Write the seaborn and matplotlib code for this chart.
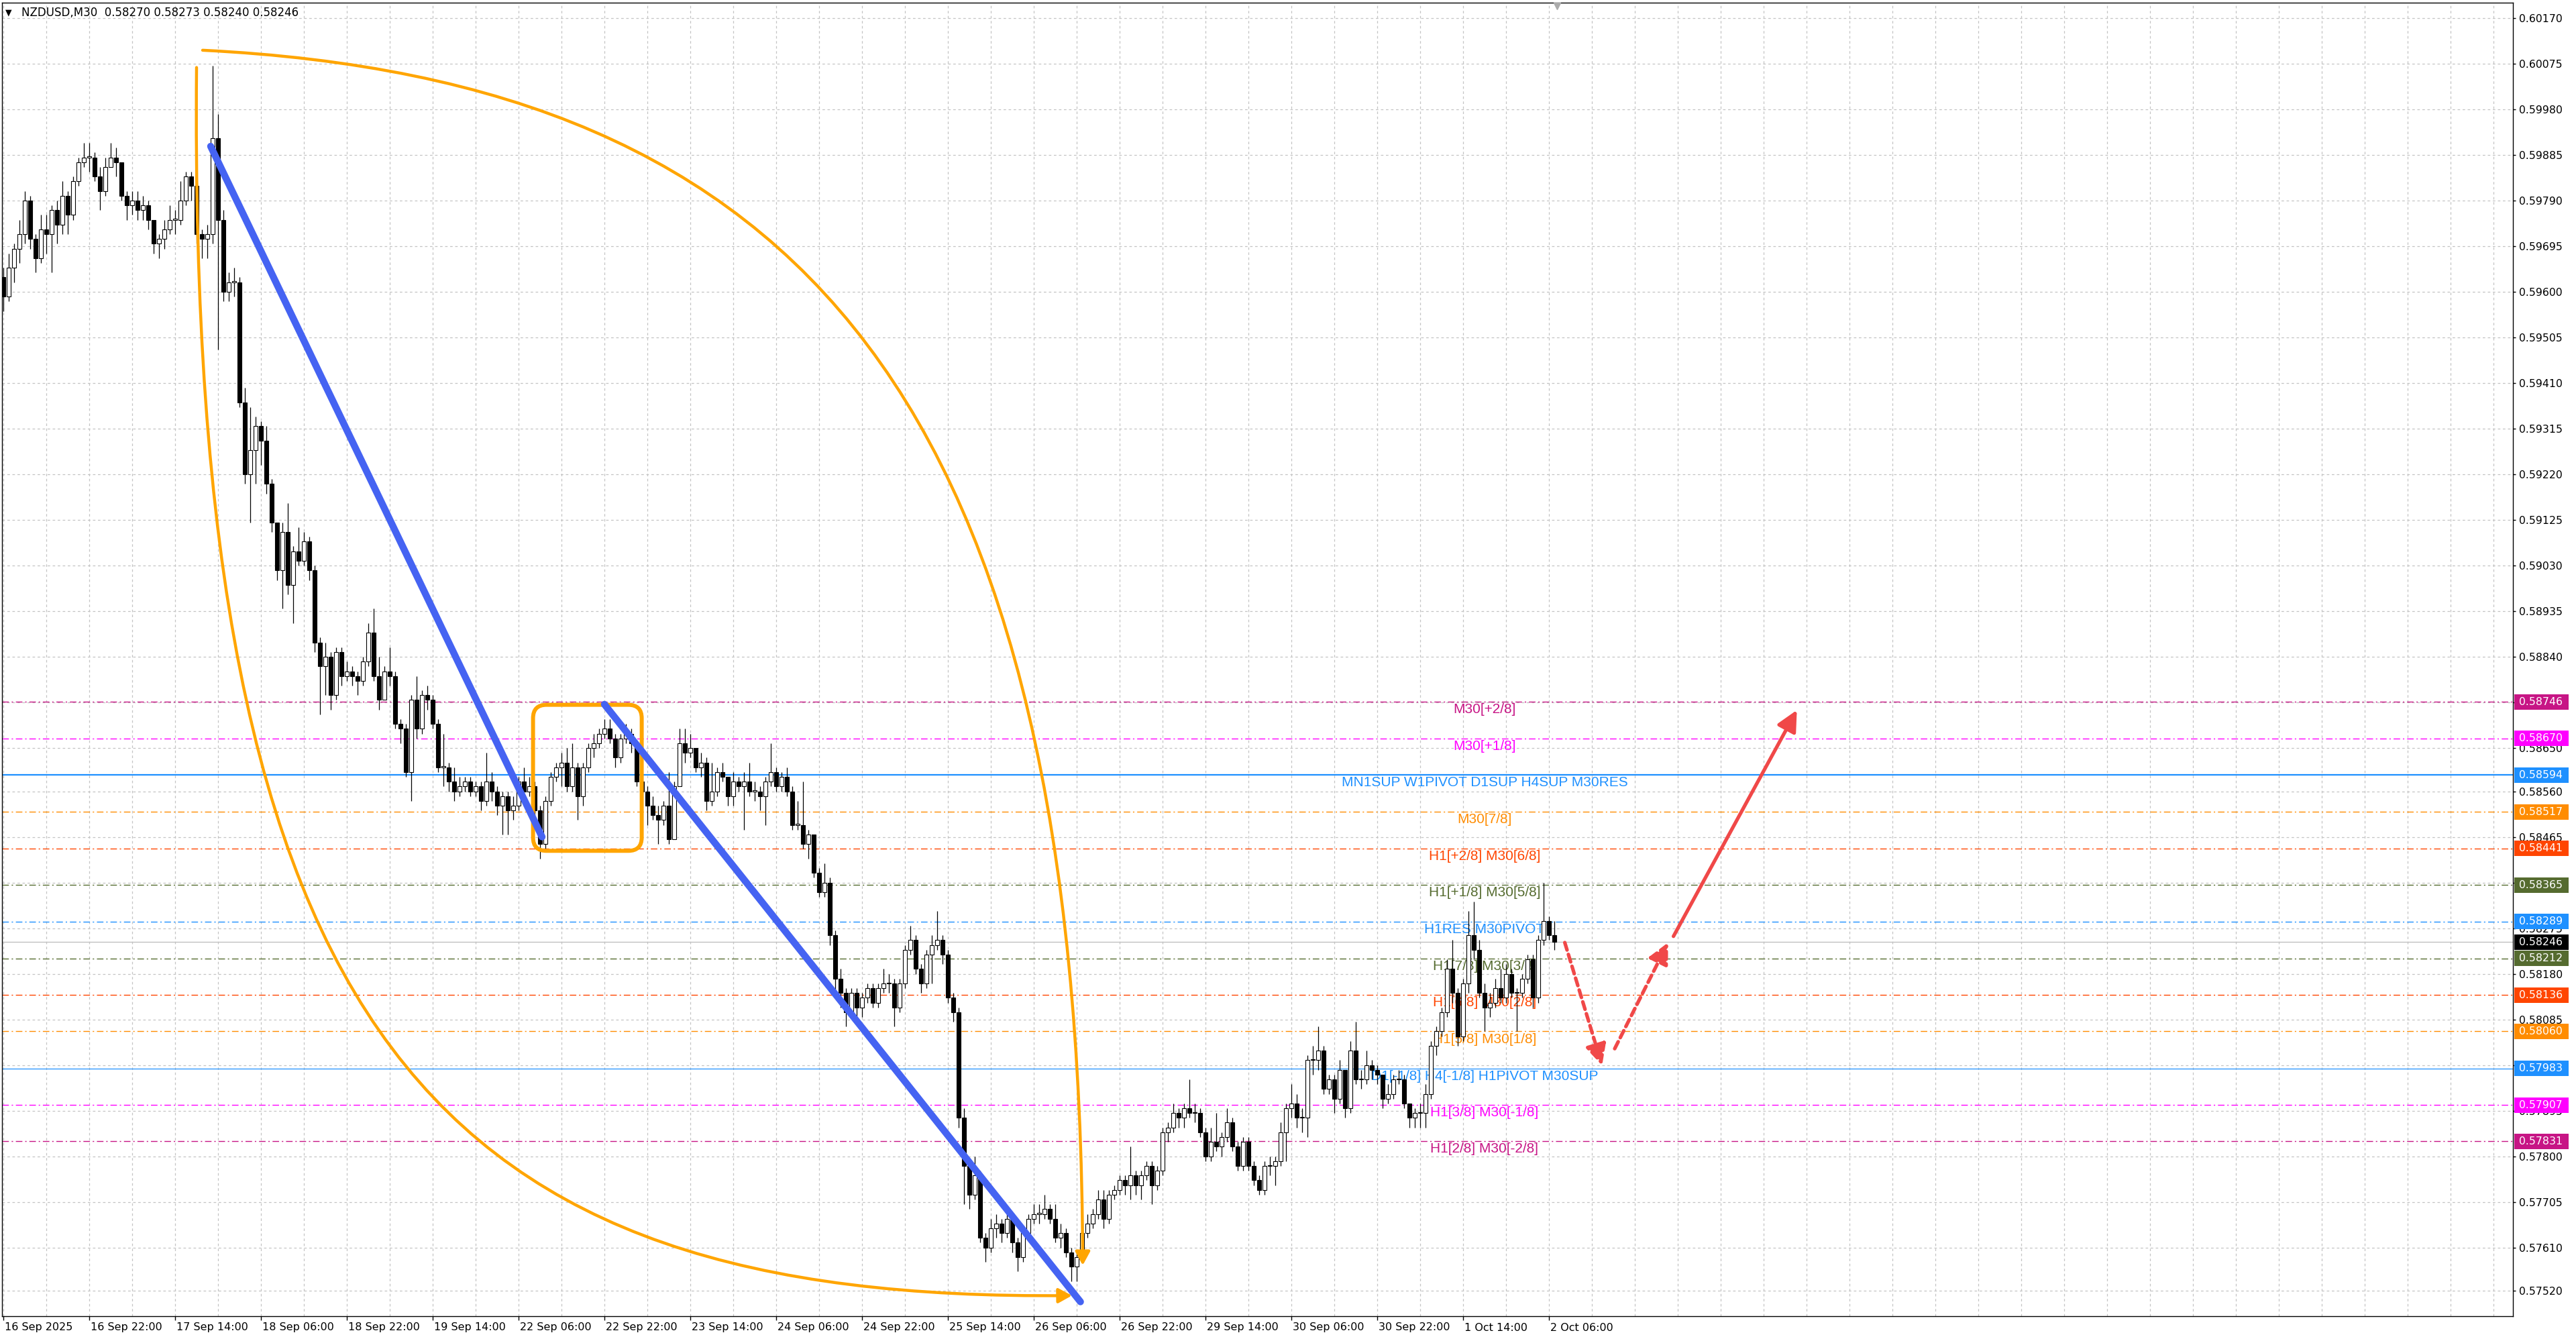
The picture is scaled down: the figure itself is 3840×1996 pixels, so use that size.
import numpy as np
import pandas as pd
import matplotlib
matplotlib.use("Agg")
import matplotlib.pyplot as plt
import seaborn as sns
from matplotlib.patches import FancyBboxPatch, FancyArrowPatch, Rectangle
from matplotlib.path import Path
from matplotlib.transforms import blended_transform_factory, IdentityTransform

# ---------------- data ----------------
SYMBOL_TITLE = "NZDUSD,M30  0.58270 0.58273 0.58240 0.58246"

FIRST_OPEN = 0.5963
CLOSE = [
    0.5959, 0.5965, 0.5969, 0.5972, 0.5979, 0.5971, 0.5967, 0.5973, 0.5972, 0.5977,
    0.5974, 0.5980, 0.5976, 0.5983, 0.5987, 0.5988, 0.5988, 0.5984, 0.5981, 0.5986,
    0.5988, 0.5987, 0.5980, 0.5978, 0.5979, 0.5977, 0.5978, 0.5975, 0.5970, 0.5971,
    0.5973, 0.5975, 0.5975, 0.5979, 0.5984, 0.5982, 0.5972, 0.5971, 0.5972, 0.5992,
    0.5975, 0.5960, 0.5962, 0.5962, 0.5937, 0.5922, 0.5927, 0.5932, 0.5929, 0.5920,
    0.5912, 0.5902, 0.5910, 0.5899, 0.5906, 0.5904, 0.5908, 0.5902, 0.5887, 0.5882,
    0.5884, 0.5876, 0.5885, 0.5880, 0.5881, 0.5880, 0.5879, 0.5883, 0.5889, 0.5880,
    0.5875, 0.5881, 0.5880, 0.5870, 0.5869, 0.5860, 0.5875, 0.5869, 0.5876, 0.5875,
    0.5870, 0.5861, 0.5861, 0.5858, 0.5856, 0.5857, 0.5858, 0.5856, 0.5857, 0.5854,
    0.5858, 0.5856, 0.5853, 0.5855, 0.5852, 0.5853, 0.5858, 0.5856, 0.5857, 0.5852,
    0.5845, 0.5854, 0.5859, 0.5861, 0.5862, 0.5857, 0.5861, 0.5855, 0.5861, 0.5865,
    0.5866, 0.5868, 0.5869, 0.5867, 0.5863, 0.5867, 0.5868, 0.5866, 0.5858, 0.5856,
    0.5853, 0.5851, 0.5850, 0.5853, 0.5846, 0.5857, 0.5866, 0.5864, 0.5865, 0.5861,
    0.5862, 0.5854, 0.5856, 0.5860, 0.5859, 0.5855, 0.5858, 0.5857, 0.5858, 0.5856,
    0.5856, 0.5855, 0.5858, 0.5860, 0.5857, 0.5859, 0.5856, 0.5849, 0.5849, 0.5845,
    0.5847, 0.5839, 0.5835, 0.5837, 0.5826, 0.5817, 0.5814, 0.5810, 0.5814, 0.5811,
    0.5813, 0.5815, 0.5812, 0.5815, 0.5816, 0.5816, 0.5811, 0.5816, 0.5823, 0.5825,
    0.5819, 0.5816, 0.5822, 0.5824, 0.5825, 0.5822, 0.5813, 0.5810, 0.5788, 0.5778,
    0.5772, 0.5776, 0.5763, 0.5761, 0.5765, 0.5766, 0.5764, 0.5767, 0.5762, 0.5759,
    0.5764, 0.5767, 0.5768, 0.5768, 0.5769, 0.5767, 0.5763, 0.5764, 0.5760, 0.5757,
    0.5759, 0.5764, 0.5766, 0.5768, 0.5771, 0.5767, 0.5772, 0.5773, 0.5775, 0.5774,
    0.5776, 0.5774, 0.5776, 0.5778, 0.5774, 0.5777, 0.5785, 0.5786, 0.5789, 0.5788,
    0.5790, 0.5789, 0.5789, 0.5785, 0.5780, 0.5783, 0.5782, 0.5784, 0.5787, 0.5782,
    0.5778, 0.5783, 0.5778, 0.5775, 0.5773, 0.5778, 0.5778, 0.5779, 0.5785, 0.5790,
    0.5791, 0.5788, 0.5788, 0.5800, 0.5800, 0.5802, 0.5794, 0.5796, 0.5792, 0.5798,
    0.5790, 0.5802, 0.5796, 0.5796, 0.5799, 0.5798, 0.5797, 0.5792, 0.5793, 0.5796,
    0.5796, 0.5791, 0.5788, 0.5789, 0.5789, 0.5793, 0.5803, 0.5806, 0.5810, 0.5819,
    0.5814, 0.5805, 0.5816, 0.5826, 0.5823, 0.5814, 0.5811, 0.5812, 0.5815, 0.5813,
    0.5818, 0.5814, 0.5814, 0.5817, 0.5821, 0.5813, 0.5825, 0.5829, 0.5826, 0.58246,
]
HIGH = [
    0.5965, 0.5968, 0.5970, 0.5975, 0.5981, 0.5980, 0.5972, 0.5976, 0.5976, 0.5978,
    0.5979, 0.5983, 0.5981, 0.5984, 0.5988, 0.5991, 0.5991, 0.5989, 0.5986, 0.5988,
    0.5991, 0.5990, 0.5987, 0.5981, 0.5981, 0.5981, 0.5980, 0.5979, 0.5975, 0.5972,
    0.5975, 0.5978, 0.5977, 0.5983, 0.5985, 0.5985, 0.5983, 0.5973, 0.5974, 0.6007,
    0.5997, 0.5977, 0.5964, 0.5965, 0.5963, 0.5940, 0.5936, 0.5934, 0.5933, 0.5932,
    0.5921, 0.5912, 0.5912, 0.5916, 0.5907, 0.5911, 0.5910, 0.5909, 0.5903, 0.5888,
    0.5887, 0.5885, 0.5886, 0.5886, 0.5883, 0.5882, 0.5881, 0.5884, 0.5891, 0.5894,
    0.5884, 0.5882, 0.5886, 0.5881, 0.5871, 0.5870, 0.5876, 0.5880, 0.5877, 0.5878,
    0.5876, 0.5871, 0.5868, 0.5862, 0.5861, 0.5859, 0.5859, 0.5859, 0.5858, 0.5858,
    0.5864, 0.5860, 0.5857, 0.5856, 0.5856, 0.5855, 0.5859, 0.5861, 0.5859, 0.5858,
    0.5853, 0.5855, 0.5860, 0.5862, 0.5864, 0.5865, 0.5866, 0.5862, 0.5862, 0.5866,
    0.5868, 0.5869, 0.5871, 0.5871, 0.5868, 0.5868, 0.5870, 0.5869, 0.5866, 0.5859,
    0.5857, 0.5855, 0.5853, 0.5854, 0.5860, 0.5858, 0.5869, 0.5869, 0.5868, 0.5865,
    0.5864, 0.5863, 0.5862, 0.5861, 0.5862, 0.5859, 0.5860, 0.5859, 0.5860, 0.5862,
    0.5858, 0.5857, 0.5859, 0.5866, 0.5861, 0.5860, 0.5861, 0.5857, 0.5854, 0.5858,
    0.5848, 0.5847, 0.5840, 0.5841, 0.5838, 0.5827, 0.5819, 0.5815, 0.5815, 0.5815,
    0.5814, 0.5816, 0.5816, 0.5816, 0.5819, 0.5818, 0.5817, 0.5817, 0.5824, 0.5828,
    0.5826, 0.5820, 0.5823, 0.5826, 0.5831, 0.5826, 0.5823, 0.5814, 0.5811, 0.5790,
    0.5779, 0.5780, 0.5777, 0.5764, 0.5767, 0.5768, 0.5767, 0.5769, 0.5768, 0.5763,
    0.5765, 0.5768, 0.5770, 0.5770, 0.5772, 0.5770, 0.5770, 0.5766, 0.5765, 0.5761,
    0.5760, 0.5765, 0.5768, 0.5769, 0.5773, 0.5773, 0.5773, 0.5774, 0.5776, 0.5776,
    0.5782, 0.5777, 0.5777, 0.5779, 0.5779, 0.5778, 0.5786, 0.5787, 0.5791, 0.5790,
    0.5791, 0.5796, 0.5791, 0.5790, 0.5786, 0.5786, 0.5789, 0.5785, 0.5790, 0.5788,
    0.5783, 0.5784, 0.5784, 0.5779, 0.5776, 0.5779, 0.5780, 0.5780, 0.5787, 0.5791,
    0.5795, 0.5793, 0.5790, 0.5801, 0.5803, 0.5807, 0.5803, 0.5797, 0.5797, 0.5800,
    0.5798, 0.5804, 0.5808, 0.5798, 0.5802, 0.5800, 0.5799, 0.5797, 0.5795, 0.5797,
    0.5798, 0.5797, 0.5791, 0.5790, 0.5791, 0.5795, 0.5804, 0.5807, 0.5811, 0.5821,
    0.5825, 0.5815, 0.5817, 0.5831, 0.5833, 0.5825, 0.5816, 0.5814, 0.5817, 0.5819,
    0.5820, 0.5819, 0.5815, 0.5818, 0.5822, 0.5822, 0.5826, 0.5837, 0.5830, 0.5829,
]
LOW = [
    0.5956, 0.5958, 0.5962, 0.5966, 0.5970, 0.5969, 0.5964, 0.5966, 0.5968, 0.5964,
    0.5970, 0.5972, 0.5972, 0.5975, 0.5982, 0.5986, 0.5985, 0.5983, 0.5977, 0.5980,
    0.5986, 0.5984, 0.5979, 0.5975, 0.5976, 0.5975, 0.5975, 0.5973, 0.5968, 0.5967,
    0.5969, 0.5972, 0.5972, 0.5974, 0.5978, 0.5979, 0.5970, 0.5967, 0.5967, 0.5970,
    0.5948, 0.5958, 0.5958, 0.5959, 0.5936, 0.5920, 0.5912, 0.5920, 0.5924, 0.5918,
    0.5910, 0.5900, 0.5894, 0.5897, 0.5891, 0.5903, 0.5903, 0.5900, 0.5885, 0.5872,
    0.5876, 0.5873, 0.5875, 0.5878, 0.5879, 0.5878, 0.5876, 0.5878, 0.5882, 0.5879,
    0.5873, 0.5875, 0.5878, 0.5869, 0.5866, 0.5859, 0.5854, 0.5867, 0.5868, 0.5873,
    0.5869, 0.5860, 0.5857, 0.5856, 0.5854, 0.5855, 0.5856, 0.5855, 0.5855, 0.5852,
    0.5853, 0.5854, 0.5851, 0.5847, 0.5847, 0.5850, 0.5852, 0.5855, 0.5855, 0.5850,
    0.5842, 0.5844, 0.5853, 0.5858, 0.5857, 0.5856, 0.5856, 0.5850, 0.5853, 0.5860,
    0.5863, 0.5865, 0.5867, 0.5866, 0.5861, 0.5862, 0.5866, 0.5864, 0.5857, 0.5852,
    0.5849, 0.5850, 0.5845, 0.5849, 0.5845, 0.5846, 0.5857, 0.5862, 0.5863, 0.5860,
    0.5859, 0.5852, 0.5853, 0.5855, 0.5858, 0.5853, 0.5853, 0.5856, 0.5848, 0.5855,
    0.5854, 0.5852, 0.5849, 0.5857, 0.5856, 0.5856, 0.5855, 0.5848, 0.5848, 0.5844,
    0.5842, 0.5838, 0.5834, 0.5834, 0.5824, 0.5813, 0.5811, 0.5807, 0.5809, 0.5809,
    0.5809, 0.5812, 0.5811, 0.5811, 0.5814, 0.5814, 0.5807, 0.5810, 0.5815, 0.5822,
    0.5818, 0.5814, 0.5815, 0.5816, 0.5823, 0.5820, 0.5812, 0.5808, 0.5786, 0.5770,
    0.5769, 0.5771, 0.5762, 0.5758, 0.5760, 0.5763, 0.5762, 0.5763, 0.5760, 0.5756,
    0.5758, 0.5763, 0.5766, 0.5766, 0.5767, 0.5766, 0.5762, 0.5761, 0.5759, 0.5754,
    0.5754, 0.5758, 0.5763, 0.5765, 0.5767, 0.5765, 0.5766, 0.5771, 0.5772, 0.5772,
    0.5771, 0.5772, 0.5771, 0.5775, 0.5770, 0.5773, 0.5776, 0.5783, 0.5785, 0.5786,
    0.5786, 0.5788, 0.5787, 0.5784, 0.5779, 0.5779, 0.5781, 0.5780, 0.5783, 0.5781,
    0.5777, 0.5777, 0.5777, 0.5774, 0.5772, 0.5772, 0.5776, 0.5774, 0.5778, 0.5779,
    0.5788, 0.5786, 0.5785, 0.5784, 0.5797, 0.5798, 0.5793, 0.5793, 0.5789, 0.5791,
    0.5788, 0.5789, 0.5795, 0.5794, 0.5795, 0.5796, 0.5795, 0.5790, 0.5791, 0.5792,
    0.5795, 0.5790, 0.5786, 0.5786, 0.5786, 0.5786, 0.5792, 0.5801, 0.5805, 0.5809,
    0.5812, 0.5803, 0.5804, 0.5814, 0.5821, 0.5813, 0.5806, 0.5809, 0.5811, 0.5812,
    0.5812, 0.5813, 0.5806, 0.5813, 0.5816, 0.5811, 0.5812, 0.5824, 0.5825, 0.5823,
]

DATE_LABELS = ["16 Sep 2025", "16 Sep 22:00", "17 Sep 14:00", "18 Sep 06:00",
               "18 Sep 22:00", "19 Sep 14:00", "22 Sep 06:00", "22 Sep 22:00",
               "23 Sep 14:00", "24 Sep 06:00", "24 Sep 22:00", "25 Sep 14:00",
               "26 Sep 06:00", "26 Sep 22:00", "29 Sep 14:00", "30 Sep 06:00",
               "30 Sep 22:00", "1 Oct 14:00", "2 Oct 06:00"]

PRICE_TICK_LABELS = ["0.60170", "0.60075", "0.59980", "0.59885", "0.59790", "0.59695",
                     "0.59600", "0.59505", "0.59410", "0.59315", "0.59220", "0.59125",
                     "0.59030", "0.58935", "0.58840", "0.58745", "0.58650", "0.58560",
                     "0.58465", "0.58370", "0.58275", "0.58180", "0.58085", "0.57990",
                     "0.57895", "0.57800", "0.57705", "0.57610", "0.57520"]

LEVEL_PRICES = [0.58746, 0.58670, 0.58594, 0.58517, 0.58441, 0.58365, 0.58289,
                0.58212, 0.58136, 0.58060, 0.57983, 0.57907, 0.57831]
LEVEL_TEXTS = ["M30[+2/8]", "M30[+1/8]", "MN1SUP W1PIVOT D1SUP H4SUP M30RES",
               "M30[7/8]", "H1[+2/8] M30[6/8]", "H1[+1/8] M30[5/8]", "H1RES M30PIVOT",
               "H1[7/8] M30[3/8]", "H1[6/8] M30[2/8]", "H1[5/8] M30[1/8]",
               "D1[-1/8] H4[-1/8] H1PIVOT M30SUP", "H1[3/8] M30[-1/8]", "H1[2/8] M30[-2/8]"]
CURRENT_PRICE = 0.58246

# drawn objects (slot units of M30 bars, price)
TREND_A = [(77.25, 0.59903), (200.75, 0.58465)]
TREND_B = [(224.0, 0.58741), (401.4, 0.57497)]
BOX_ZONE = [(197.4, 0.58436), (237.9, 0.58740)]
ARC_LEFT = [(72.0, 0.60067), (68.75, 0.58042), (161.25, 0.57497), (398.25, 0.57510)]
ARC_RIGHT = [(74.25, 0.60103), (298.75, 0.60040), (401.25, 0.59369), (402.25, 0.57573)]
FORECAST_DOWN = [(581.9, 0.58245), (595.8, 0.57989)]
FORECAST_UP1 = [(600.5, 0.58024), (620.4, 0.58245)]
FORECAST_UP2 = [(622.4, 0.58258), (668.4, 0.58729)]

# ---------------- styles / layout ----------------
LEVEL_COLORS = ["#C71585", "#FF00FF", "#1E90FF", "#FF8C00", "#FF4500", "#556B2F", "#1E90FF",
                "#556B2F", "#FF4500", "#FF8C00", "#1E90FF", "#FF00FF", "#C71585"]
LEVEL_SOLID = [False, False, True, False, False, False, False,
               False, False, False, True, False, False]
LEVEL_WIDTHS = [1.0, 1.0, 1.6, 1.0, 1.0, 1.0, 1.0, 1.0, 1.0, 1.0, 0.9, 1.0, 1.0]
BOX_PRICES = LEVEL_PRICES[:7] + [CURRENT_PRICE] + LEVEL_PRICES[7:]
BOX_COLORS = LEVEL_COLORS[:7] + ["#000000"] + LEVEL_COLORS[7:]

W, H = 3840, 1996
BAR_SLOT = 2
DATE_STEP = 32
GRID_STEP = 16
LABEL_X = 552
YLIM = (0.57467, 0.60202)
XLIM = (-0.5, 935.25)

sns.set_theme(style="white")
plt.rcParams["font.family"] = ["DejaVu Sans"]

fig = plt.figure(figsize=(W / 100, H / 100), dpi=100, facecolor="white")
ax = fig.add_axes([3 / W, 34 / H, (3746 - 3) / W, (1962 - 4) / H])
ax.set_facecolor("white")

# ---- candles ----
c = np.array(CLOSE)
o = np.array([FIRST_OPEN] + CLOSE[:-1])
hi = np.maximum.reduce([np.array(HIGH), o, c])
lo = np.minimum.reduce([np.array(LOW), o, c])
xs = np.arange(len(c)) * BAR_SLOT
up = c >= o
bb = np.minimum(o, c)
bh = np.maximum(np.abs(c - o), 0.000018)
ax.vlines(xs, lo, hi, color="black", lw=0.9, zorder=3)
ax.bar(xs[up], bh[up], bottom=bb[up], width=1.3, color="white", edgecolor="black",
       linewidth=0.8, zorder=3.2)
ax.bar(xs[~up], bh[~up], bottom=bb[~up], width=1.3, color="black", edgecolor="black",
       linewidth=0.8, zorder=3.2)

# ---- level lines & labels ----
for p, col, solid, lw in zip(LEVEL_PRICES, LEVEL_COLORS, LEVEL_SOLID, LEVEL_WIDTHS):
    if solid:
        ax.axhline(p, color=col, lw=lw, zorder=1.5)
    else:
        ax.axhline(p, color=col, lw=lw, ls=(0, (7, 3, 1.5, 3)), zorder=1.5)
ax.axhline(CURRENT_PRICE, color="#C0C0C0", lw=1.0, zorder=1.4)
for p, t, col in zip(LEVEL_PRICES, LEVEL_TEXTS, LEVEL_COLORS):
    ax.annotate(t, xy=(LABEL_X, p), xytext=(0, -1.5), textcoords="offset points",
                ha="center", va="top", fontsize=15, color=col,
                family=["Liberation Sans", "DejaVu Sans"], zorder=2)

# ---- trend lines (seaborn) ----
for seg in (TREND_A, TREND_B):
    df = pd.DataFrame(seg, columns=["slot", "price"])
    sns.lineplot(data=df, x="slot", y="price", ax=ax, color="#4563F2", linewidth=7.5,
                 sort=False, legend=False, zorder=6, solid_capstyle="round")
ax.set_xlabel("")
ax.set_ylabel("")

# ---- curved arcs ----
codes = [Path.MOVETO, Path.CURVE4, Path.CURVE4, Path.CURVE4]
for pts in (ARC_LEFT, ARC_RIGHT):
    arc = FancyArrowPatch(path=Path(pts, codes),
                          arrowstyle="-|>,head_length=0.55,head_width=0.3",
                          mutation_scale=22, color="#FFA500", lw=3.2, zorder=5)
    ax.add_patch(arc)

# ---- forecast arrows ----
RED = "#F04848"
for seg, dashed in ((FORECAST_DOWN, True), (FORECAST_UP1, True), (FORECAST_UP2, False)):
    ax.annotate("", xy=seg[1], xytext=seg[0],
                arrowprops=dict(arrowstyle="-|>,head_length=0.85,head_width=0.42",
                                color=RED, lw=3.8, mutation_scale=22,
                                linestyle=(0, (2.2, 1.3)) if dashed else "-",
                                shrinkA=0, shrinkB=0),
                zorder=7)

# ---- axes, ticks, grid ----
ax.set_xlim(*XLIM)
ax.set_ylim(*YLIM)
price_ticks = [float(s) for s in PRICE_TICK_LABELS]
ax.yaxis.tick_right()
ax.set_yticks(price_ticks)
ax.set_yticklabels(PRICE_TICK_LABELS)
date_ticks = [i * DATE_STEP for i in range(len(DATE_LABELS))]
ax.set_xticks(date_ticks)
ax.set_xticklabels([])
ax.tick_params(axis="y", which="major", right=True, left=False, labelright=True,
               labelleft=False, length=3, width=1, direction="out", labelsize=11.3,
               pad=3.5, colors="black")
ax.tick_params(axis="x", which="major", bottom=True, length=4, width=1, direction="out",
               colors="black")
ax.grid(False)
grid_style = dict(color="#C4C4C4", lw=0.9, ls=(0, (3, 3)), zorder=0.5)
for p in price_ticks:
    ax.axhline(p, **grid_style)
for s in np.arange(0, XLIM[1], GRID_STEP):
    ax.axvline(s, **grid_style)
for sp in ax.spines.values():
    sp.set_color("black")
    sp.set_linewidth(1.0)
    sp.set_visible(True)

# date labels (left-aligned at ticks)
tr_date = blended_transform_factory(ax.transData, fig.transFigure)
for s, lab in zip(date_ticks, DATE_LABELS):
    ax.text(s + 0.4, 1 - 1979 / H, lab, transform=tr_date, ha="left", va="center",
            fontsize=11.5, color="black", clip_on=False)

# price boxes on right axis
tr_box = blended_transform_factory(fig.transFigure, ax.transData)
half_h = 11.5 * (YLIM[1] - YLIM[0]) / (1962 - 4)
for p, col in zip(BOX_PRICES, BOX_COLORS):
    rect = Rectangle((3748 / W, p - half_h), (3829 - 3748) / W, 2 * half_h,
                     transform=tr_box, facecolor=col, edgecolor="none",
                     clip_on=False, zorder=10)
    ax.add_patch(rect)
    ax.text(3755 / W, p, f"{p:.5f}", transform=tr_box, ha="left", va="center",
            fontsize=11.3, color="white", clip_on=False, zorder=11)

# rounded zone box (pixel-space rounding)
(x0, y0) = ax.transData.transform(BOX_ZONE[0])
(x1, y1) = ax.transData.transform(BOX_ZONE[1])
zone = FancyBboxPatch((x0, y0), x1 - x0, y1 - y0,
                      boxstyle="round,pad=0,rounding_size=20",
                      transform=IdentityTransform(), fill=False,
                      edgecolor="#FFA500", lw=4.3, zorder=5)
ax.add_patch(zone)

# shift marker at top
tr_top = blended_transform_factory(ax.transData, ax.transAxes)
ax.plot([579], [0.9975], marker="v", ms=7, color="#ABABAB", transform=tr_top,
        clip_on=False, zorder=12)

# title
fig.text(8 / W, 1 - 19 / H, "\u25BC", fontsize=9, ha="left", va="center", color="black")
fig.text(32 / W, 1 - 19 / H, SYMBOL_TITLE, fontsize=12, ha="left", va="center",
         color="black")

fig.savefig("out.png", dpi=100, facecolor="white")
